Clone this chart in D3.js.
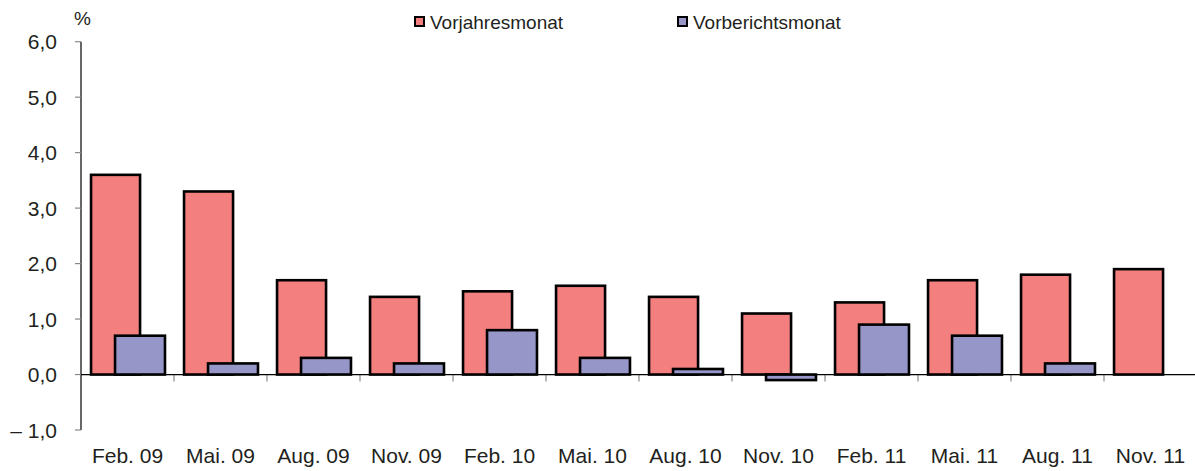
<!DOCTYPE html>
<html>
<head>
<meta charset="utf-8">
<script src="https://cdn.jsdelivr.net/npm/d3@7"></script>
<style>
    body { margin: 0; background: #fff; }
    text { font-family: "Liberation Sans", Arial, sans-serif; fill: #231f20; }
</style>
</head>
<body>
<div id="chart"></div>
<script>
var ctx = {
    w: 1195,
    h: 471
};

var categories = ["Feb. 09", "Mai. 09", "Aug. 09", "Nov. 09", "Feb. 10", "Mai. 10",
    "Aug. 10", "Nov. 10", "Feb. 11", "Mai. 11", "Aug. 11", "Nov. 11"];
var vorjahresmonat = [3.6, 3.3, 1.7, 1.4, 1.5, 1.6, 1.4, 1.1, 1.3, 1.7, 1.8, 1.9];
var vorberichtsmonat = [0.7, 0.2, 0.3, 0.2, 0.8, 0.3, 0.1, -0.1, 0.9, 0.7, 0.2, null];
var yTicks = [-1, 0, 1, 2, 3, 4, 5, 6];
var seriesNames = ["Vorjahresmonat", "Vorberichtsmonat"];
var seriesColors = ["#f47f7f", "#9696c8"];

var svg = d3.select("#chart").append("svg")
    .attr("width", ctx.w)
    .attr("height", ctx.h);

var plot = { left: 81, right: 1197, top: 41.7, bottom: 430 };

var x = d3.scaleBand()
    .domain(categories)
    .range([plot.left, plot.right]);

var y = d3.scaleLinear()
    .domain([-1, 6])
    .range([plot.bottom, plot.top]);

var fmt = function (v) {
    var s = d3.format(".1f")(Math.abs(v)).replace(".", ",");
    return v < 0 ? "\u2013 " + s : s;
};

// y axis
var yAxis = svg.append("g");
yAxis.append("line")
    .attr("x1", plot.left).attr("x2", plot.left)
    .attr("y1", plot.top).attr("y2", plot.bottom)
    .attr("stroke", "#000").attr("stroke-width", 1.2);
yAxis.selectAll("line.tick")
    .data(yTicks)
    .enter().append("line")
    .attr("class", "tick")
    .attr("x1", plot.left - 6).attr("x2", plot.left)
    .attr("y1", function (d) { return y(d); })
    .attr("y2", function (d) { return y(d); })
    .attr("stroke", "#888").attr("stroke-width", 1.2);
yAxis.selectAll("text")
    .data(yTicks)
    .enter().append("text")
    .attr("x", 57)
    .attr("y", function (d) { return y(d); })
    .attr("dy", "0.36em")
    .attr("text-anchor", "end")
    .style("font-size", "21px")
    .text(fmt);

svg.append("text")
    .attr("x", 74).attr("y", 25)
    .style("font-size", "19px")
    .text("%");

// category ticks
svg.selectAll("line.xtick")
    .data(categories.slice(1))
    .enter().append("line")
    .attr("class", "xtick")
    .attr("x1", function (d) { return x(d); })
    .attr("x2", function (d) { return x(d); })
    .attr("y1", y(0)).attr("y2", y(0) + 7)
    .attr("stroke", "#888").attr("stroke-width", 1.2);

var bw = x.bandwidth();

// red bars
svg.selectAll("rect.vj")
    .data(vorjahresmonat)
    .enter().append("rect")
    .attr("class", "vj")
    .attr("x", function (d, i) { return x(categories[i]) + bw * 0.108; })
    .attr("width", bw * 0.527)
    .attr("y", function (d) { return y(Math.max(0, d)); })
    .attr("height", function (d) { return Math.abs(y(d) - y(0)); })
    .attr("fill", seriesColors[0])
    .attr("stroke", "#000").attr("stroke-width", 2.6);

// blue bars
svg.selectAll("rect.vb")
    .data(vorberichtsmonat.map(function (v, i) { return { c: categories[i], v: v }; })
        .filter(function (d) { return d.v !== null; }))
    .enter().append("rect")
    .attr("class", "vb")
    .attr("x", function (d) { return x(d.c) + bw * 0.366; })
    .attr("width", bw * 0.537)
    .attr("y", function (d) { return y(Math.max(0, d.v)); })
    .attr("height", function (d) { return Math.abs(y(d.v) - y(0)); })
    .attr("fill", seriesColors[1])
    .attr("stroke", "#000").attr("stroke-width", 2.6);

// zero line
svg.append("line")
    .attr("x1", plot.left).attr("x2", ctx.w)
    .attr("y1", y(0)).attr("y2", y(0))
    .attr("stroke", "#000").attr("stroke-width", 1.2);

// category labels
svg.selectAll("text.cat")
    .data(categories)
    .enter().append("text")
    .attr("class", "cat")
    .attr("x", function (d) { return x(d) + bw / 2; })
    .attr("y", 463)
    .attr("text-anchor", "middle")
    .style("font-size", "21px")
    .text(function (d) { return d; });

// legend
var legendX = [415, 678];
var legend = svg.selectAll("g.legend")
    .data(seriesNames)
    .enter().append("g")
    .attr("class", "legend")
    .attr("transform", function (d, i) { return "translate(" + legendX[i] + ",22)"; });
legend.append("rect")
    .attr("x", 0).attr("y", -5)
    .attr("width", 9).attr("height", 9)
    .attr("fill", function (d, i) { return seriesColors[i]; })
    .attr("stroke", "#000").attr("stroke-width", 2);
legend.append("text")
    .attr("x", 15).attr("y", 0)
    .attr("dy", "0.36em")
    .style("font-size", "19px")
    .text(function (d) { return d; });
</script>
</body>
</html>
